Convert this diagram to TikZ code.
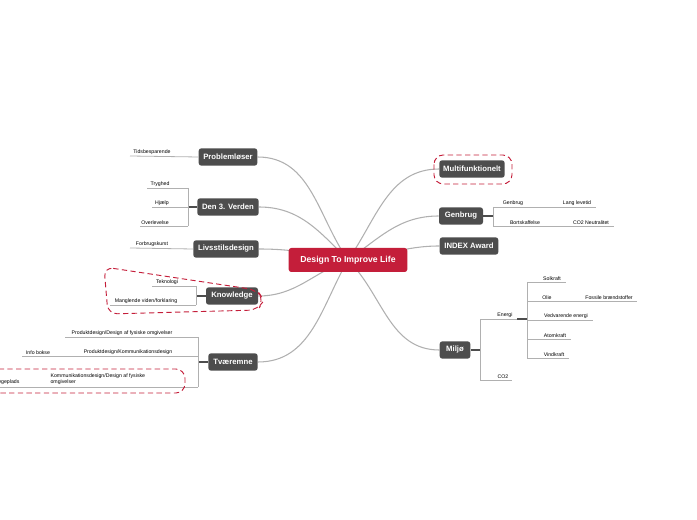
\documentclass[tikz,border=0pt]{standalone}
\usepackage{fontspec}
\setmainfont{Liberation Sans}
\usetikzlibrary{backgrounds}
\definecolor{nd}{HTML}{4D4D4D}
\definecolor{cr}{HTML}{C41E3A}
\definecolor{ln}{HTML}{B0B0B0}
\begin{document}
\begin{tikzpicture}[x=0.75pt,y=-0.75pt,
 topic/.style={fill=nd,text=white,font=\bfseries\fontsize{5.8}{7}\selectfont,rounded corners=2pt,inner sep=0pt,minimum height=13pt,drop shadow/.style={}},
 leaf/.style={font=\fontsize{3.9}{4.6}\selectfont,inner sep=1pt,anchor=south},
 br/.style={draw=ln,line width=0.6pt},
 con/.style={draw=ln,line width=0.8pt},
 red/.style={draw=cr,dashed,dash pattern=on 4pt off 2.5pt,line width=0.7pt,rounded corners=7pt}]
\useasboundingbox (0,0) rectangle (697,520);
\clip (0,0) rectangle (697,520);
\node[fill=cr,text=white,font=\bfseries\fontsize{6.5}{8}\selectfont,rounded corners=2pt,minimum width=89pt,minimum height=18pt,inner sep=0pt] (c) at (348,260) {Design To Improve Life};
\node[topic,minimum width=44pt] (p) at (228,157) {Problemløser};
\node[topic,minimum width=46pt] (d) at (228,207) {Den 3. Verden};
\node[topic,minimum width=49pt] (l) at (226,249) {Livsstilsdesign};
\node[topic,minimum width=39pt] (k) at (232,296) {Knowledge};
\node[topic,minimum width=37pt] (t) at (233,362) {Tværemne};
\node[topic,minimum width=49pt] (m) at (472,169) {Multifunktionelt};
\node[topic,minimum width=33pt] (g) at (461,216) {Genbrug};
\node[topic,minimum width=44pt] (i) at (469,246) {INDEX Award};
\node[topic,minimum width=23pt] (mi) at (455,350) {Miljø};
\begin{scope}[on background layer]
\draw[con] (p.east) to[out=0,in=125] (c.center);
\draw[con] (d.east) to[out=0,in=135] (c.center);
\draw[con] (l.east) to[out=0,in=170] (c.center);
\draw[con] (k.east) to[out=0,in=200] (c.center);
\draw[con] (t.east) to[out=0,in=240] (c.center);
\draw[con] (m.west) to[out=180,in=55] (c.center);
\draw[con] (g.west) to[out=180,in=35] (c.center);
\draw[con] (i.west) to[out=180,in=5] (c.center);
\draw[con] (mi.west) to[out=180,in=-45] (c.center);
\end{scope}
% Problemloser
\coordinate (pa) at (130,156);
\draw[br] (p.west) -- (pa);
\node[leaf] at (152,156) {Tidsbesparende};
% Den 3. Verden
\coordinate (db) at (188,207);
\draw[br,line width=1pt,nd] (d.west) -- (db);
\draw[br] (188,188) -- (188,226);
\draw[br] (147,188) -- (188,188); \node[leaf] at (160,188) {Tryghed};
\draw[br] (152,207) -- (188,207); \node[leaf] at (162,207) {Hjælp};
\draw[br] (140,226) -- (188,226); \node[leaf] at (155,226) {Overlevelse};
% Livsstil
\coordinate (la) at (130,248);
\draw[br] (l.west) -- (la);
\node[leaf] at (152,248) {Forbrugskurst};
% Knowledge
\coordinate (kb) at (196,296);
\draw[br,line width=1pt,nd] (k.west) -- (kb);
\draw[br] (196,286) -- (196,305);
\draw[br] (152,286) -- (196,286); \node[leaf] at (167,286) {Teknologi};
\draw[br] (110,305) -- (196,305); \node[leaf] at (146,305) {Manglende viden/forklaring};
\draw[red] (104,267) -- (257,290) -- (264,300) -- (258,310) -- (108,314) -- cycle;
% Tvaeremne
\coordinate (tb) at (198,362);
\draw[br,line width=1pt,nd] (t.west) -- (tb);
\draw[br] (198,337) -- (198,387);
\draw[br] (65,337) -- (198,337); \node[leaf] at (122,337) {Produktdesign/Design af fysiske omgivelser};
\draw[br] (22,356) -- (198,356); \node[leaf] at (128,356) {Produktdesign/Kommunikationsdesign};
\node[leaf] at (38,356) {Info bokse};
\draw[br] (0,387) -- (198,387);
\node[leaf,anchor=south west,align=left] at (49,386) {Kommunikationsdesign/Design af fysiske\\omgivelser};
\node[leaf,anchor=south east] at (21,386) {Legeplads};
\draw[red] (-10,369) -- (185,369) -- (185,393) -- (-10,393);
% Multifunktionelt
\draw[red] (434,155) rectangle (512,184);
% Genbrug
\coordinate (gb) at (493,216);
\draw[br,line width=1pt,nd] (g.east) -- (gb);
\draw[br] (493,207) -- (493,226);
\draw[br] (493,207) -- (596,207); \node[leaf] at (513,207) {Genbrug}; \node[leaf] at (577,207) {Lang levetid};
\draw[br] (493,226) -- (614,226); \node[leaf] at (525,226) {Bortskaffelse}; \node[leaf] at (591,226) {CO2 Neutralitet};
% Miljo
\coordinate (mb) at (480,350);
\draw[br,line width=1pt,nd] (mi.east) -- (mb);
\draw[br] (480,319) -- (480,380);
\draw[br] (480,319) -- (517,319); \node[leaf] at (505,319) {Energi};
\draw[br,line width=1pt,nd] (517,319) -- (527,319);
\draw[br] (480,380) -- (512,380); \node[leaf] at (503,380) {CO2};
\draw[br] (527,282) -- (527,358);
\draw[br] (527,282) -- (566,282); \node[leaf] at (552,282) {Solkraft};
\draw[br] (527,301) -- (637,301); \node[leaf] at (547,301) {Olie}; \node[leaf] at (609,301) {Fossile brændstoffer};
\draw[br] (527,320) -- (593,320); \node[leaf] at (566,320) {Vedvarende energi};
\draw[br] (527,339) -- (571,339); \node[leaf] at (555,339) {Atomkraft};
\draw[br] (527,358) -- (569,358); \node[leaf] at (554,358) {Vindkraft};
\end{tikzpicture}
\end{document}
